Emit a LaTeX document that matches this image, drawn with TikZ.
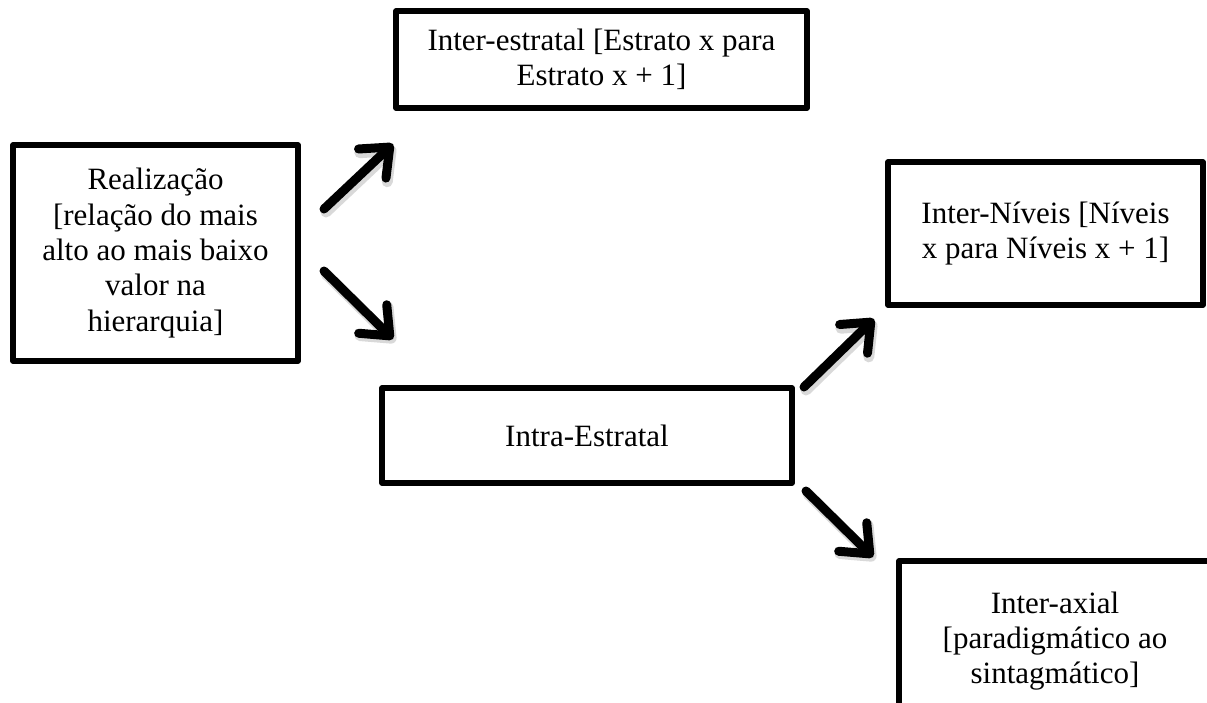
\documentclass[tikz,border=0pt]{standalone}
\usepackage{fontspec}
\setmainfont{Liberation Serif}
\usetikzlibrary{arrows.meta}

\tikzset{
  box/.style={draw=black, line width=5.5pt, line join=round, fill=white,
    align=center, inner sep=0pt,
    font=\fontsize{31pt}{35.3pt}\selectfont},
  flow/.style={line width=9pt, line cap=round,
    -{Straight Barb[length=24pt, width=40pt, round]}},
  flowshadow/.style={flow, draw=black, opacity=0.15, line width=11pt}
}

\begin{document}
\begin{tikzpicture}[x=1pt, y=-1pt]
  \useasboundingbox (0,0) rectangle (1207,702);
  \clip (0,0) rectangle (1207,702);
  \fill[white] (0,0) rectangle (1207,702);

  % boxes
  \node[box, minimum width=285pt, minimum height=216pt] (real) at (155.5,253)
    {Realização\\{[}relação do mais\\alto ao mais baixo\\valor na\\hierarquia]};
  \node[box, minimum width=411pt, minimum height=97pt] (inter) at (601.5,59.5)
    {Inter-estratal [Estrato x para\\Estrato x + 1]};
  \node[box, minimum width=315pt, minimum height=143pt] (niveis) at (1045.5,233.5)
    {Inter-Níveis [Níveis\\x para Níveis x + 1]};
  \node[box, minimum width=410pt, minimum height=95pt] (intra) at (587,435.5)
    {Intra-Estratal};
  \node[box, minimum width=312pt, minimum height=160pt] (axial) at (1055,641)
    {Inter-axial\\{[}paradigmático ao\\sintagmático]};

  % arrow end points
  \coordinate (a1s) at (324,209);  \coordinate (a1e) at (393,144);
  \coordinate (a2s) at (324,271);  \coordinate (a2e) at (393,339);
  \coordinate (a3s) at (804,387);  \coordinate (a3e) at (874,319);
  \coordinate (a4s) at (806,491);  \coordinate (a4e) at (873,557);

  % soft shadows under the arrows
  \foreach \s/\e in {a1s/a1e, a2s/a2e, a3s/a3e, a4s/a4e}
    \draw[flowshadow, transform canvas={shift={(2pt,-3pt)}}] (\s) -- (\e);

  % arrows
  \draw[flow] (a1s) -- (a1e);
  \draw[flow] (a2s) -- (a2e);
  \draw[flow] (a3s) -- (a3e);
  \draw[flow] (a4s) -- (a4e);
\end{tikzpicture}
\end{document}
